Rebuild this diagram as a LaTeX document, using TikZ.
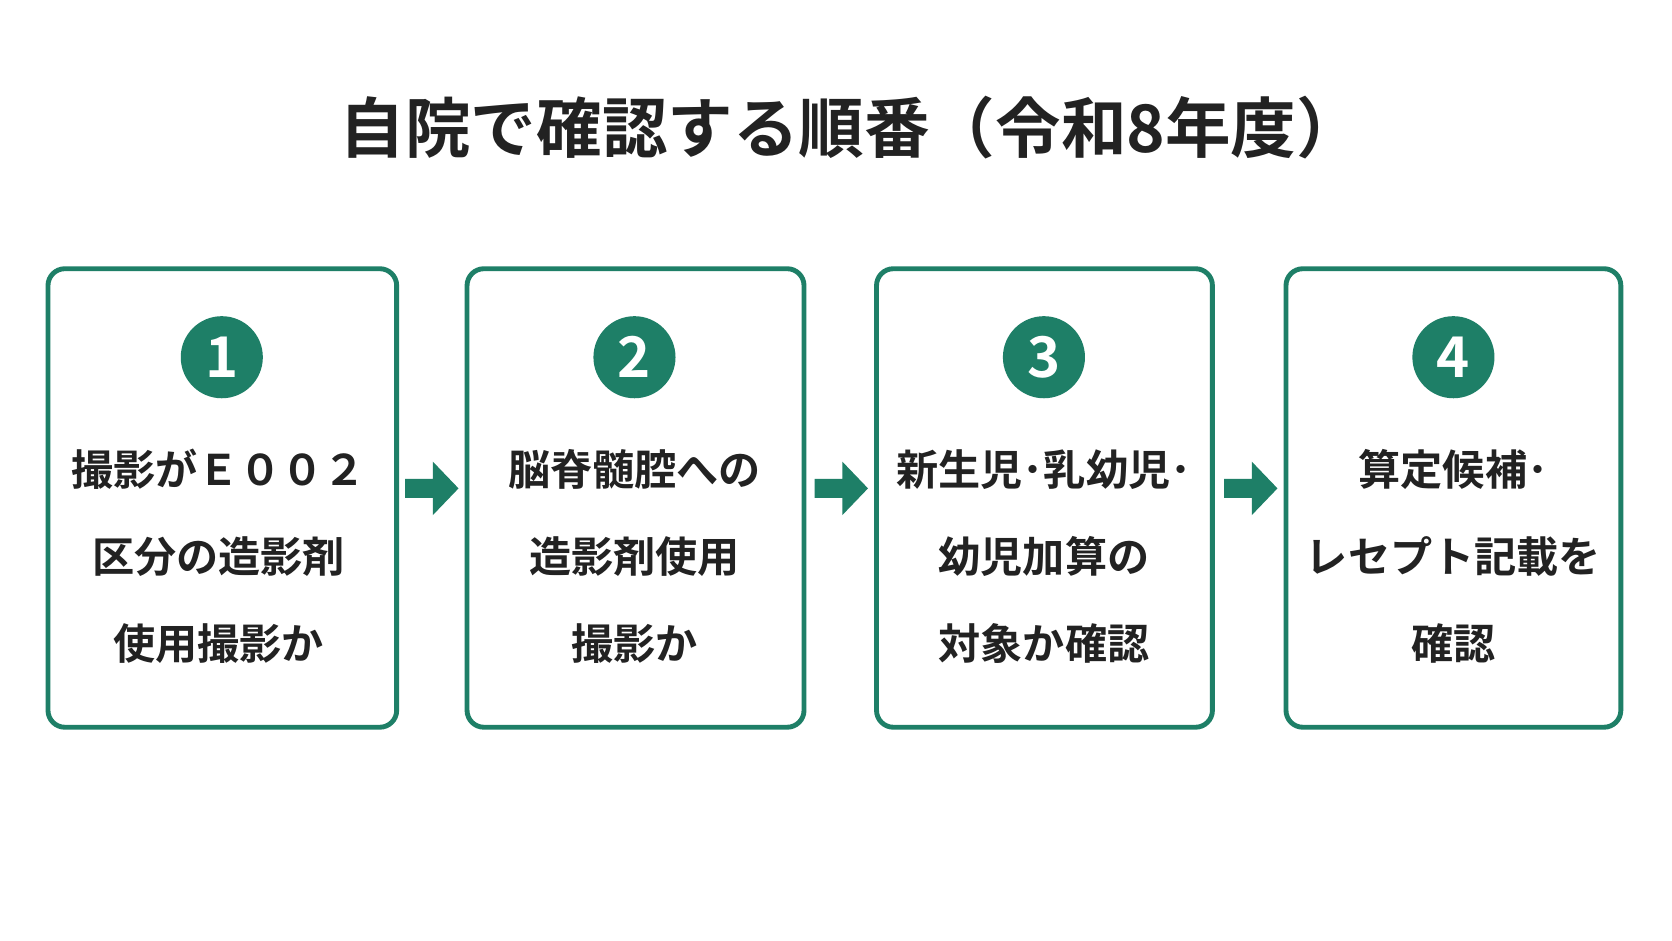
\documentclass[tikz,border=0pt]{standalone}
\usepackage{fontspec}
\newfontfamily\cjk{Noto Sans CJK JP}[BoldFont={Noto Sans CJK JP Bold}]
\usetikzlibrary{positioning}
\definecolor{stepgreen}{HTML}{1E7F67}
\definecolor{inkgray}{HTML}{222222}

\tikzset{
    step box/.style={draw=stepgreen, line width=2.6pt, rounded corners=9pt, fill=white},
    step num/.style={circle, fill=stepgreen, minimum size=1.54cm, inner sep=0pt,
        text=white, font=\cjk\bfseries\fontsize{30}{30}\selectfont},
    step text/.style={text=inkgray, align=center, font=\cjk\bfseries\fontsize{22.5}{46.5}\selectfont},
    step arrow/.style={fill=stepgreen, draw=none}
}

\begin{document}
\begin{tikzpicture}[x=0.02cm, y=-0.02cm]
        \useasboundingbox (0, 0) rectangle (1568, 882);
        \fill[white] (0, 0) rectangle (1568, 882);

        \node[text=inkgray, font=\cjk\bfseries\fontsize{35}{35}\selectfont] (title) at (798, 120)
            {自院で確認する順番（令和8年度）};

        % four steps
        \draw[step box] (45, 252) rectangle (372, 682);
        \draw[step box] (438, 252) rectangle (754, 682);
        \draw[step box] (822, 252) rectangle (1137, 682);
        \draw[step box] (1206, 252) rectangle (1520, 682);

        \node[step num] (n1) at (208, 335) {1};
        \node[step num] (n2) at (595, 335) {2};
        \node[step num] (n3) at (979, 335) {3};
        \node[step num] (n4) at (1363, 335) {4};

        \node[step text] (t1) at (205, 522) {撮影がＥ００２\\区分の造影剤\\使用撮影か};
        \node[step text] (t2) at (595, 522) {脳脊髄腔への\\造影剤使用\\撮影か};
        \node[step text] (t3) at (979, 522) {新生児･乳幼児･\\幼児加算の\\対象か確認};
        \node[step text] (t4) at (1363, 522) {算定候補･\\レセプト記載を\\確認};

        % arrows between boxes
        \foreach \ax in {380, 764, 1148} {
            \fill[step arrow] (\ax, 449) -- (\ax+26, 449) -- (\ax+26, 433)
                -- (\ax+50, 458) -- (\ax+26, 483) -- (\ax+26, 467) -- (\ax, 467) -- cycle;
        }
\end{tikzpicture}
\end{document}
